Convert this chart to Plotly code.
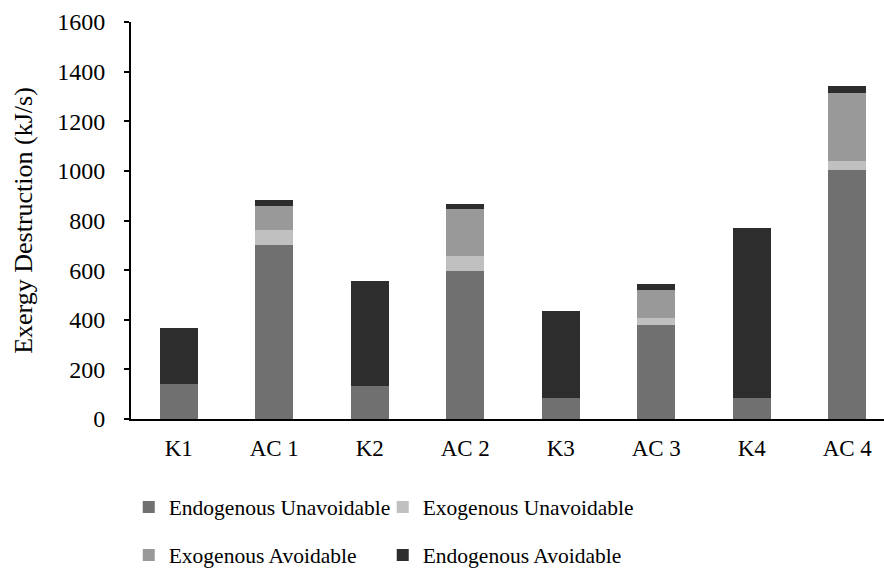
import plotly.graph_objects as go

categories = ["K1", "AC 1", "K2", "AC 2", "K3", "AC 3", "K4", "AC 4"]
endo_unavoidable = [141, 703, 133, 595, 86, 380, 85, 1003]
exo_unavoidable = [0, 57, 0, 61, 0, 28, 0, 35]
exo_avoidable = [0, 99, 0, 192, 0, 113, 0, 275]
endo_avoidable = [225, 22, 424, 20, 350, 22, 685, 28]

series = [
    ("Endogenous Unavoidable", endo_unavoidable, "#707070", "legend"),
    ("Exogenous Unavoidable", exo_unavoidable, "#c0c0c0", "legend"),
    ("Exogenous Avoidable", exo_avoidable, "#999999", "legend2"),
    ("Endogenous Avoidable", endo_avoidable, "#2d2d2d", "legend2"),
]

FONT = "Liberation Serif"

fig = go.Figure()
for name, vals, color, lg in series:
    fig.add_trace(go.Bar(
        x=categories, y=vals, name=name, legend=lg,
        marker=dict(color=color, line=dict(width=0)),
        width=0.4,
    ))

legend_common = dict(
    orientation="h", xanchor="left", yanchor="middle",
    font=dict(family=FONT, size=21.5, color="black"),
    entrywidth=209, entrywidthmode="pixels",
    itemwidth=30, bgcolor="rgba(0,0,0,0)", traceorder="normal",
)

fig.update_layout(
    width=884, height=570,
    margin=dict(l=131, r=0, t=22, b=151, autoexpand=False),
    paper_bgcolor="white", plot_bgcolor="white",
    barmode="stack", bargap=0.6,
    font=dict(family=FONT, size=20, color="black"),
    showlegend=True,
    legend=dict(x=-0.003, y=(419 - 507) / 397, **legend_common),
    legend2=dict(x=-0.003, y=(419 - 555) / 397, **legend_common),
    xaxis=dict(
        range=[-0.5, 7.385], showline=True, linecolor="black", linewidth=2,
        ticks="", showgrid=False, zeroline=False, automargin=False,
        tickfont=dict(family=FONT, size=23, color="black"),
        ticklabelstandoff=7,
    ),
    yaxis=dict(
        range=[0, 1600], dtick=200, showline=True, linecolor="black", linewidth=2,
        ticks="outside", ticklen=5, tickwidth=1.5, tickcolor="black",
        showgrid=False, zeroline=False, automargin=False,
        tickfont=dict(family=FONT, size=24, color="black"),
        ticklabelstandoff=14,
        title=dict(text="Exergy Destruction (kJ/s)", font=dict(family=FONT, size=26, color="black"), standoff=17),
    ),
)

fig.write_html(
    "out.html",
    config={"displayModeBar": False},
    post_script="document.body.style.margin='0';document.body.style.overflow='hidden';",
)
